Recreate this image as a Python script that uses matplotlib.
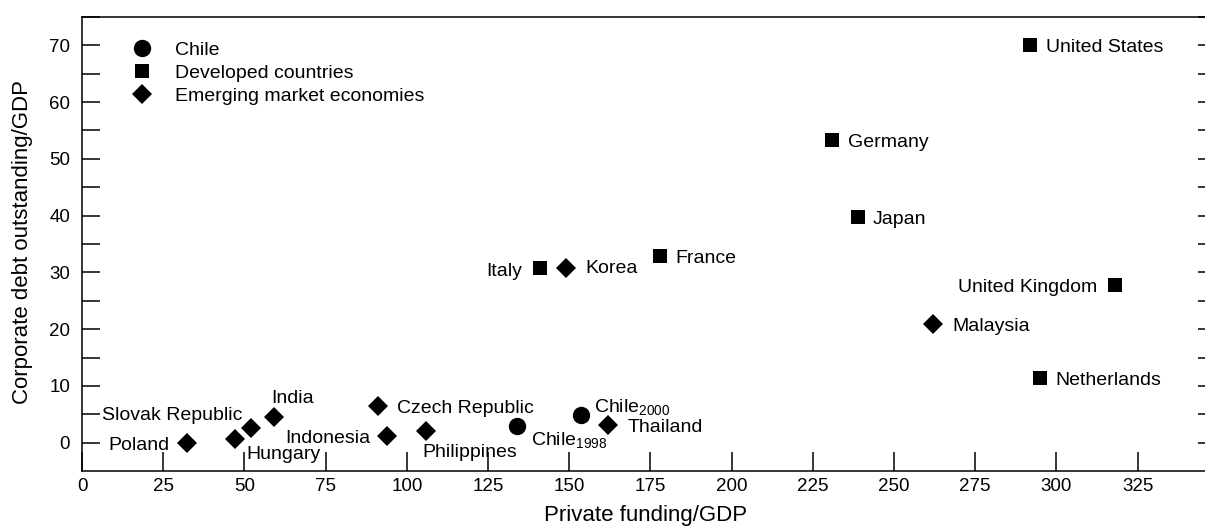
import matplotlib
matplotlib.use("Agg")
import matplotlib.pyplot as plt
from matplotlib.lines import Line2D

plt.rcParams["font.family"] = ["Liberation Sans", "DejaVu Sans"]
plt.rcParams["mathtext.fontset"] = "custom"
plt.rcParams["mathtext.rm"] = "Liberation Sans"
plt.rcParams["mathtext.it"] = "Liberation Sans:italic"
plt.rcParams["mathtext.bf"] = "Liberation Sans:bold"

# ---- data -------------------------------------------------------------
chile_names = ["Chile$_{\\mathrm{1998}}$", "Chile$_{\\mathrm{2000}}$"]
chile_funding = [134.0, 153.5]
chile_debt = [3.0, 4.9]

developed_names = ["United States", "Germany", "Japan", "France", "Italy",
                   "United Kingdom", "Netherlands"]
developed_funding = [292, 231, 239, 178, 141, 318, 295]
developed_debt = [70.0, 53.4, 39.7, 32.9, 30.7, 27.7, 11.4]

emerging_names = ["Korea", "Malaysia", "Poland", "Hungary", "Slovak Republic",
                  "India", "Czech Republic", "Indonesia", "Philippines",
                  "Thailand"]
emerging_funding = [149, 262, 32.4, 47, 52, 59, 91, 94, 106, 162]
emerging_debt = [30.8, 20.9, 0.0, 0.6, 2.6, 4.5, 6.5, 1.1, 2.0, 3.1]

group_labels = ["Chile", "Developed countries", "Emerging market economies"]
x_ticks = list(range(0, 326, 25))
y_ticks = list(range(0, 71, 10))

# ---- label placement: (dx, dy) in points from the marker, alignment ----
label_place = {
    "Chile$_{\\mathrm{1998}}$": (10, -8.6, "left"),
    "Chile$_{\\mathrm{2000}}$": (10, 7.2, "left"),
    "United States": (11.5, 0, "left"),
    "Germany": (11, 0, "left"),
    "Japan": (10, 0, "left"),
    "France": (10.8, 0, "left"),
    "Italy": (-13, -0.7, "right"),
    "United Kingdom": (-13, 0, "right"),
    "Netherlands": (10.8, 0, "left"),
    "Korea": (13.7, 1, "left"),
    "Malaysia": (13.7, 0, "left"),
    "Poland": (-13, 0, "right"),
    "Hungary": (8.6, -9.4, "left"),
    "Slovak Republic": (-6.5, 11, "right"),
    "India": (-2, 15, "left"),
    "Czech Republic": (13.7, 0, "left"),
    "Indonesia": (-12, 0, "right"),
    "Philippines": (-3, -13.7, "left"),
    "Thailand": (13.7, 0, "left"),
}

fig = plt.figure(figsize=(12.05, 5.26), dpi=100)
ax = fig.add_axes([82 / 1205, 55 / 526, (1215.6 - 82) / 1205, 454 / 526])

styles = [
    ("o", 12.5, chile_names, chile_funding, chile_debt),
    ("s", 10.0, developed_names, developed_funding, developed_debt),
    ("D", 10.3, emerging_names, emerging_funding, emerging_debt),
]

label_fs = 14
for marker, ms, names, xs, ys in styles:
    ax.plot(xs, ys, linestyle="none", marker=marker, markersize=ms,
            color="black", markeredgewidth=0)
    for name, xv, yv in zip(names, xs, ys):
        dx, dy, ha = label_place[name]
        ax.annotate(name, (xv, yv), xytext=(dx, dy - 0.36 * label_fs),
                    textcoords="offset points", ha=ha, va="baseline",
                    fontsize=label_fs, color="black")

handles = [Line2D([], [], linestyle="none", marker=m, markersize=ms,
                  color="black", markeredgewidth=0)
           for m, ms, *_ in styles]
ax.legend(handles, group_labels, loc="upper left",
          bbox_to_anchor=(0.0444, 0.946), frameon=False, borderpad=0,
          borderaxespad=0, handlelength=1.0, handletextpad=1.2,
          labelspacing=0.27, fontsize=14)

ax.set_xlim(0, 349)
ax.set_ylim(-5, 75)
ax.set_xticks(x_ticks)
ax.set_yticks(y_ticks)
ax.set_yticks([v + 5 for v in y_ticks], minor=True)
ax.tick_params(axis="y", which="both", direction="in", length=13,
               width=1.1, left=True, right=True, labelsize=13.5, pad=8.5)
ax.tick_params(axis="x", which="both", direction="in", length=13.5,
               width=1.1, top=False, labelsize=13.5, pad=5)
for sp in ax.spines.values():
    sp.set_linewidth(1.1)

ax.set_xlabel("Private funding/GDP", fontsize=16)
ax.set_ylabel("Corporate debt outstanding/GDP", fontsize=16)
ax.xaxis.set_label_coords(0.497, -0.075)
ax.yaxis.set_label_coords(-0.043, 0.505)

fig.savefig("out.png", dpi=100)
